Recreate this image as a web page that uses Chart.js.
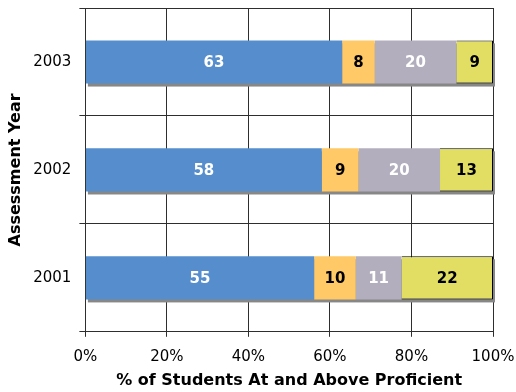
<!DOCTYPE html>
<html>
<head>
<meta charset="utf-8">
<script src="https://cdn.jsdelivr.net/npm/chart.js@4/dist/chart.umd.min.js"></script>
<style>
  html, body { margin: 0; padding: 0; background: #fff; }
  #wrap { width: 516px; height: 392px; }
</style>
</head>
<body>
<div id="wrap"><canvas id="barChart" width="516" height="392"></canvas></div>
<script>
const years = ['2003', '2002', '2001'];

// raw values as printed on the bars (Excel 100% stacked, so each row is normalised)
const seriesA = [63, 58, 55];
const seriesB = [8, 9, 10];
const seriesC = [20, 20, 11];
const seriesD = [9, 13, 22];

const xTicks = [0, 20, 40, 60, 80, 100];

const rowTotals = years.map((y, i) => seriesA[i] + seriesB[i] + seriesC[i] + seriesD[i]);
const toPct = arr => arr.map((v, i) => v / rowTotals[i] * 100);

const fontFamily = 'Verdana, "DejaVu Sans", sans-serif';
const gridColor = '#2e2e2e';

// gray drop shadow behind each stacked row
const shadowPlugin = {
    id: 'barShadow',
    beforeDatasetsDraw(chart) {
        const ctx = chart.ctx;
        const first = chart.getDatasetMeta(0).data;
        const last = chart.getDatasetMeta(chart.data.datasets.length - 1).data;
        ctx.save();
        ctx.fillStyle = '#878787';
        first.forEach((bar, i) => {
            const x0 = Math.min(bar.base, bar.x);
            const x1 = last[i].x;
            const top = bar.y - bar.height / 2;
            ctx.fillRect(x0 + 2, top + 3, x1 - x0, bar.height);
        });
        ctx.restore();
    }
};

// value labels inside each segment
const labelPlugin = {
    id: 'segLabels',
    afterDatasetsDraw(chart) {
        const ctx = chart.ctx;
        ctx.save();
        ctx.font = 'bold 15px ' + fontFamily;
        ctx.textAlign = 'center';
        ctx.textBaseline = 'middle';
        chart.data.datasets.forEach((ds, di) => {
            chart.getDatasetMeta(di).data.forEach((bar, i) => {
                const p = bar.getCenterPoint();
                ctx.fillStyle = ds.labelColor;
                ctx.fillText(String(ds.raw[i]), p.x, p.y + 1);
            });
        });
        ctx.restore();
    }
};

const barCtx = document.getElementById('barChart').getContext('2d');
const barChart = new Chart(barCtx, {
    type: 'bar',
    data: {
        labels: years,
        datasets: [
            { raw: seriesA, data: toPct(seriesA), backgroundColor: '#568ecd', labelColor: '#ffffff', borderWidth: 0 },
            { raw: seriesB, data: toPct(seriesB), backgroundColor: '#fec966', labelColor: '#000000', borderWidth: 0 },
            { raw: seriesC, data: toPct(seriesC), backgroundColor: '#b3aebe', labelColor: '#ffffff', borderWidth: 0 },
            { raw: seriesD, data: toPct(seriesD), backgroundColor: '#e1de63', labelColor: '#000000', borderColor: '#000000', borderWidth: 1 }
        ]
    },
    options: {
        indexAxis: 'y',
        responsive: false,
        animation: false,
        layout: {
            padding: { top: 8, right: 0, left: 6, bottom: 2 }
        },
        datasets: {
            bar: {
                barPercentage: 0.4,
                categoryPercentage: 1.0
            }
        },
        scales: {
            x: {
                stacked: true,
                min: 0,
                max: 100,
                afterBuildTicks: axis => { axis.ticks = xTicks.map(v => ({ value: v })); },
                afterFit: s => { s.paddingRight = 23; s.paddingLeft = 0; },
                ticks: {
                    callback: v => v + '%',
                    color: '#000',
                    font: { family: fontFamily, size: 15 },
                    padding: 11,
                    maxRotation: 0
                },
                grid: {
                    color: gridColor,
                    tickLength: 5,
                    lineWidth: 1
                },
                border: { color: gridColor, width: 1 },
                title: {
                    display: true,
                    text: '% of Students At and Above Proficient',
                    color: '#000',
                    font: { family: fontFamily, size: 16, weight: 'bold' },
                    padding: { top: -6, bottom: 0 }
                }
            },
            y: {
                stacked: true,
                afterFit: s => { s.paddingTop = 0; s.paddingBottom = 0; },
                ticks: {
                    color: '#000',
                    font: { family: fontFamily, size: 15 },
                    padding: 8
                },
                grid: {
                    color: gridColor,
                    tickLength: 6,
                    lineWidth: 1
                },
                border: { color: gridColor, width: 1 },
                title: {
                    display: true,
                    text: 'Assessment Year',
                    color: '#000',
                    font: { family: fontFamily, size: 16, weight: 'bold' },
                    padding: { top: 0, bottom: 0 }
                }
            }
        },
        plugins: {
            legend: { display: false },
            tooltip: { enabled: false }
        }
    },
    plugins: [shadowPlugin, labelPlugin]
});
</script>
</body>
</html>
